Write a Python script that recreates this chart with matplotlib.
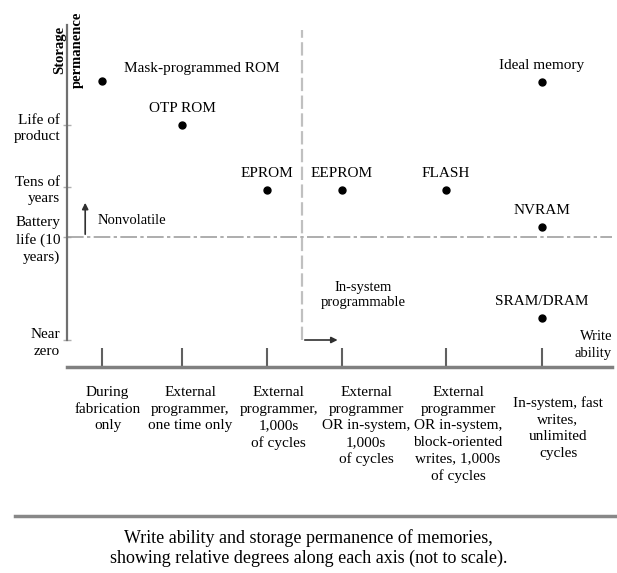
import matplotlib
matplotlib.use("Agg")
import matplotlib.pyplot as plt

plt.rcParams['font.family'] = ['Liberation Serif', 'DejaVu Serif']

# write-ability categories (left to right) and where they sit on the x axis
write_levels = [
    "During\nfabrication\nonly",
    "External\nprogrammer,\none time only",
    "External\nprogrammer,\n1,000s\nof cycles",
    "External\nprogrammer\nOR in-system,\n1,000s\nof cycles",
    "External\nprogrammer\nOR in-system,\nblock-oriented\nwrites, 1,000s\nof cycles",
    "In-system, fast\nwrites,\nunlimited\ncycles",
]
write_pos = [0, 1, 2.06, 3.0, 4.3, 5.5]

# storage-permanence levels (bottom to top)
perm_labels = ["Near\nzero", "Battery\nlife (10\nyears)", "Tens of\nyears", "Life of\nproduct"]
perm_pos = [0, 1.03, 1.53, 2.15]

# memories: name, write-ability index, permanence value
memories = ["Mask-programmed ROM", "OTP ROM", "EPROM", "EEPROM", "FLASH", "NVRAM", "SRAM/DRAM", "Ideal memory"]
mem_write = [0, 1, 2, 3, 4, 5, 5, 5]
mem_perm = [2.59, 2.15, 1.5, 1.5, 1.5, 1.13, 0.22, 2.58]

fig = plt.figure(figsize=(6.17, 5.73), dpi=100)
ax = fig.add_axes([67 / 617, 1 - 367 / 573, 545 / 617, 347 / 573])
ax.set_xlim(-0.4375, 6.375)
ax.set_ylim(-0.27, 3.2)

for s in ['top', 'right']:
    ax.spines[s].set_visible(False)
ax.spines['left'].set_bounds(0, 3.15)
ax.spines['left'].set_color('#707070')
ax.spines['left'].set_linewidth(1.6)
ax.spines['bottom'].set_color('#808080')
ax.spines['bottom'].set_linewidth(2.5)

ax.set_xticks(write_pos)
ax.set_xticklabels([])
ax.tick_params(axis='x', direction='in', length=14, width=1.5, color='#606060')
ax.set_yticks(perm_pos)
ax.set_yticklabels(perm_labels, fontsize=11, linespacing=1.35)
ax.tick_params(axis='y', direction='inout', length=6, width=1, color='#b0b0b0', pad=2)

# volatile / non-volatile and in-system divisions
ax.axhline(perm_pos[1], color='#a0a0a0', lw=1.2, ls=(0, (10, 2, 2, 2)))
ax.plot([2.5, 2.5], [0.0, 3.1], color='#c0c0c0', lw=1.6, ls=(0, (6, 2)))

xs = [write_pos[i] for i in mem_write]
ax.plot(xs, mem_perm, 'o', color='black', ms=5, clip_on=False)
for name, x, y in zip(memories, xs, mem_perm):
    if name.startswith("Mask"):
        ax.annotate(name, (x, y), xytext=(16, 4), textcoords='offset points',
                    ha='left', va='bottom', fontsize=11)
    else:
        ax.annotate(name, (x, y), xytext=(0, 7), textcoords='offset points',
                    ha='center', va='bottom', fontsize=11)

# arrows for nonvolatile and in-system programmable
ax.annotate("", xy=(-0.21, 1.4), xytext=(-0.21, perm_pos[1]),
            arrowprops=dict(arrowstyle='-|>', color='#303030', lw=1.2, mutation_scale=9))
ax.text(-0.06, 1.2, "Nonvolatile", fontsize=10.5, ha='left', va='center')
ax.annotate("", xy=(2.98, 0.0), xytext=(2.5, 0.0),
            arrowprops=dict(arrowstyle='-|>', color='#303030', lw=1.2, mutation_scale=9))
ax.text(3.27, 0.45, "In-system\nprogrammable", fontsize=10.5, ha='center', va='center',
        linespacing=1.15)

ax.text(6.375, -0.05, "Write\nability", fontsize=10.5, ha='right', va='center',
        linespacing=1.5)
ax.text(-0.42, 2.9, "Storage\npermanence", fontsize=10.5, fontweight='bold',
        rotation=90, ha='center', va='center', linespacing=1.5)

# category descriptions under the x axis
label_x = [0.07, 1.1, 2.21, 3.3, 4.45, 5.7]
for i, (lab, x) in enumerate(zip(write_levels, label_x)):
    y_top = -0.46 if i < 5 else -0.56
    ax.text(x, y_top, lab, fontsize=11, ha='center', va='top', linespacing=1.36,
            clip_on=False)

# rule and caption
fig.add_artist(plt.Line2D([15 / 617, 1.0], [1 - 516 / 573] * 2, color='#888888', lw=2.5))
fig.text(0.5, 1 - 548 / 573,
         "Write ability and storage permanence of memories,\n"
         "showing relative degrees along each axis (not to scale).",
         ha='center', va='center', fontsize=13, linespacing=1.25)

fig.savefig("out.png", dpi=100)
